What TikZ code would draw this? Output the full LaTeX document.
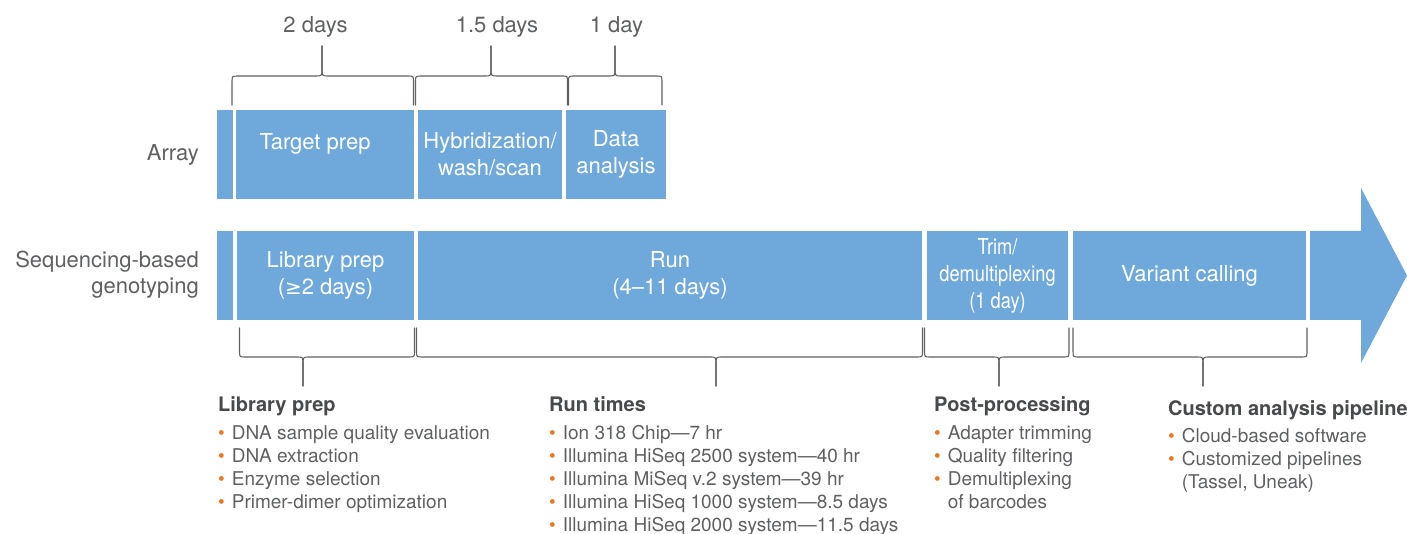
\documentclass[tikz,border=0pt]{standalone}
\usepackage{fontspec}
\setmainfont{TeX Gyre Heros}
\newfontfamily\symfnt{DejaVu Sans}
\usetikzlibrary{calc}
\definecolor{boxblue}{RGB}{111,169,220}
\definecolor{txtgrey}{RGB}{95,96,98}
\definecolor{headgrey}{RGB}{72,73,75}
\definecolor{bulorange}{RGB}{232,119,34}
\newcommand{\bul}{\textcolor{bulorange}{\textbullet}}
% #1 x left, #2 x tip, #3 x right, #4 y of ends, #5 y of bar, #6 y of tip
\newcommand{\bracket}[6]{%
  \draw[bracestyle] (#1,#4) -- ($(#1,#5)!6pt!(#1,#4)$) .. controls (#1,#5) .. (#1+6,#5)
     -- (#2-6,#5) .. controls (#2,#5) .. ($(#2,#5)!8pt!(#2,#6)$) -- (#2,#6);
  \draw[bracestyle] (#2,#6) -- ($(#2,#5)!8pt!(#2,#6)$) .. controls (#2,#5) .. (#2+6,#5)
     -- (#3-6,#5) .. controls (#3,#5) .. ($(#3,#5)!6pt!(#3,#4)$) -- (#3,#4);}
\tikzset{
  box/.style={fill=boxblue, draw=none, inner sep=0pt, outer sep=0pt, text=white,
    align=center, font=\fontsize{22}{27}\selectfont, anchor=north west},
  bracestyle/.style={draw=txtgrey, line width=1.1pt, line cap=round},
  dur/.style={text=txtgrey, font=\fontsize{22}{26}\selectfont, inner sep=0pt},
  rowlabel/.style={text=txtgrey, font=\fontsize{22}{26}\selectfont, align=right, anchor=east, inner sep=0pt},
  notes/.style={text=txtgrey, font=\fontsize{19}{23}\selectfont, anchor=base west, inner sep=0pt},
  heading/.style={text=headgrey, font=\fontsize{20}{23}\selectfont\bfseries, anchor=base west, inner sep=0pt},
}
\begin{document}
\begin{tikzpicture}[x=1pt,y=-1pt]
\useasboundingbox (0,0) rectangle (1407,534);

% row labels
\node[rowlabel] (larray) at (199,155) {Array};
\node[rowlabel] (lseq) at (199,275) {Sequencing-based\\genotyping};

% array row
\node[box, minimum width=16pt, minimum height=89pt] (a0) at (217,110) {};
\node[box, minimum width=178pt, minimum height=89pt] (a1) at (236,110) {\mbox{Target prep\hspace{20pt}}\\\mbox{}};
\node[box, minimum width=144pt, minimum height=89pt] (a2) at (418,110) {Hybridization/\\wash/scan};
\node[box, minimum width=100pt, minimum height=89pt] (a3) at (566,110) {Data\\analysis};

% sequencing row
\node[box, minimum width=16pt, minimum height=89pt] (s0) at (217,231) {};
\node[box, minimum width=177pt, minimum height=89pt] (s1) at (237,231) {Library prep\\({\symfnt\fontsize{20}{27}\selectfont ≥}2 days)};
\node[box, minimum width=504pt, minimum height=89pt] (s2) at (418,231) {Run\\(4–11 days)};
\node[box, minimum width=141pt, minimum height=89pt] (s3) at (927,231) {\scalebox{0.83}[1]{Trim/}\\\scalebox{0.83}[1]{demultiplexing}\\\scalebox{0.83}[1]{(1 day)}};
\node[box, minimum width=233pt, minimum height=89pt] (s4) at (1073,231) {Variant calling};
\fill[boxblue] (1310,231) -- (1361,231) -- (1361,188) -- (1407,275.5) -- (1361,363) -- (1361,320) -- (1310,320) -- cycle;

% top braces
\bracket{232}{322}{413.5}{105}{76}{46}
\bracket{415.5}{491}{567.5}{105}{76}{46}
\bracket{568.5}{615}{662}{105}{76}{46}
\node[dur] (d1) at (315.5,27) {2 days};
\node[dur] (d2) at (497,27) {1.5 days};
\node[dur] (d3) at (616.5,27) {1 day};

% bottom braces
\bracket{239.5}{303}{414.5}{328}{357}{386}
\bracket{416.5}{716}{922.5}{328}{357}{386}
\bracket{924.5}{999}{1069}{328}{357}{386}
\bracket{1073}{1203}{1307}{328}{357}{386}

% notes
\node[heading] (h1) at (218,411) {Library prep};
\node[notes] (n1) at (218,439) {\begin{tabular}[t]{@{}l@{\hspace{7pt}}l@{}}
\bul & DNA sample quality evaluation\\
\bul & DNA extraction\\
\bul & Enzyme selection\\
\bul & Primer-dimer optimization
\end{tabular}};
\node[heading] (h2) at (549,411) {Run times};
\node[notes] (n2) at (549,439) {\begin{tabular}[t]{@{}l@{\hspace{7pt}}l@{}}
\bul & Ion 318 Chip—7 hr\\
\bul & Illumina HiSeq 2500 system—40 hr\\
\bul & Illumina MiSeq v.2 system—39 hr\\
\bul & Illumina HiSeq 1000 system—8.5 days\\
\bul & Illumina HiSeq 2000 system—11.5 days
\end{tabular}};
\node[heading] (h3) at (934,411) {Post-processing};
\node[notes] (n3) at (934,439) {\begin{tabular}[t]{@{}l@{\hspace{7pt}}l@{}}
\bul & Adapter trimming\\
\bul & Quality filtering\\
\bul & Demultiplexing\\
 & of barcodes
\end{tabular}};
\node[heading] (h4) at (1168,415) {Custom analysis pipeline};
\node[notes] (n4) at (1168,442) {\begin{tabular}[t]{@{}l@{\hspace{7pt}}l@{}}
\bul & Cloud-based software\\
\bul & Customized pipelines\\
 & (Tassel, Uneak)
\end{tabular}};
\end{tikzpicture}
\end{document}
